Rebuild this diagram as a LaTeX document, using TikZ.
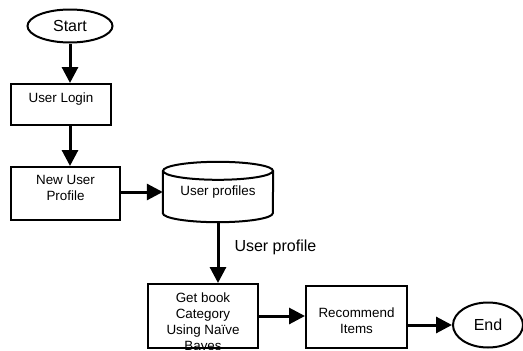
\documentclass[tikz,border=0pt]{standalone}
\usepackage{fontspec}
\setmainfont{Liberation Sans}
\usetikzlibrary{arrows.meta, positioning, calc, shapes.geometric}
\definecolor{ink}{HTML}{000000}

\begin{document}
\begin{tikzpicture}[
    x=1pt, y=1pt,
    every node/.style={font=\fontsize{13.4}{16}\selectfont, text=ink},
    box/.style={draw=ink, line width=2pt, rectangle, inner sep=0pt},
    oval/.style={draw=ink, line width=2pt, ellipse, inner sep=0pt, font=\fontsize{16}{18}\selectfont},
    toptext/.style={anchor=north, align=center, inner sep=0pt},
    flow/.style={ink, line width=3pt, -{Triangle[length=16pt, width=16pt]}},
    lab/.style={font=\fontsize{16}{18}\selectfont},
]
\useasboundingbox (0,0) rectangle (523,-351);

% terminals
\node[oval, minimum width=85, minimum height=33] (start) at (70,-26) {Start};
\node[oval, minimum width=70, minimum height=45] (end) at (488,-325) {End};

% process boxes, text sitting at the top
\node[box, minimum width=100, minimum height=41] (login) at (61,-104.5) {};
\node[toptext] (logintext) at ($(login.north)+(0,-9.5)$) {User Login};

\node[box, minimum width=109, minimum height=53] (newprof) at (65.5,-193.5) {};
\node[toptext] (newproftext) at ($(newprof.north)+(0,-9.5)$) {New User\\Profile};

\node[box, minimum width=110, minimum height=64] (getbook) at (203,-316) {};
\begin{scope}
    \clip (getbook.south west) rectangle (getbook.north east);
    \node[toptext] (getbooktext) at ($(getbook.north)+(0,-9.5)$)
        {Get book\\Category\\Using Naïve\\Bayes};
\end{scope}

\node[box, minimum width=101, minimum height=62] (recommend) at (356.5,-317) {};
\node[align=center, inner sep=0pt] (recommendtext) at ($(recommend.center)+(0,-4)$) {Recommend\\Items};

% profile store as a cylinder
\node[inner sep=0pt, minimum width=110, minimum height=60] (profiles) at (218,-192) {User profiles};
\draw[ink, line width=2pt] ($(profiles.north)+(0,-9)$) ellipse (55 and 9);
\draw[ink, line width=2pt] ($(profiles.north west)+(0,-9)$) -- ($(profiles.south west)+(0,9)$)
    arc (180:360:55 and 9) -- ($(profiles.north east)+(0,-9)$);

% flow
\draw[flow] (start.south) -- (start.south |- login.north);
\draw[flow] (login.south -| start.south) -- (newprof.north -| start.south);
\draw[flow] (newprof.east |- profiles.center) -- (profiles.west);
\draw[flow] (profiles.south) -- (profiles.south |- getbook.north);
\draw[flow] (getbook.east) -- (getbook.east -| recommend.west);
\draw[flow] (recommend.east |- end.west) -- (end.west);

\node[lab, anchor=west] (flowlabel) at (231,-247) {User profile};
\end{tikzpicture}
\end{document}
